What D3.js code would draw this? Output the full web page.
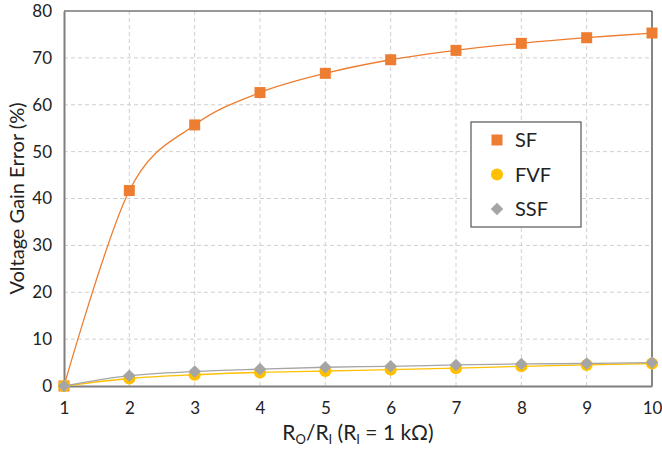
<!DOCTYPE html>
<html>
<head>
<meta charset="utf-8">
<script src="https://cdn.jsdelivr.net/npm/d3@7"></script>
<style>
  body { margin: 0; background: #fff; }
  svg { font-family: Lato, "Open Sans", sans-serif; }
</style>
</head>
<body>
<svg id="chart" width="662" height="455"></svg>
<script>
// ratio Ro/Ri
const ratios = [1, 2, 3, 4, 5, 6, 7, 8, 9, 10];
const sfValues  = [0, 41.7, 55.7, 62.6, 66.7, 69.6, 71.6, 73.1, 74.3, 75.3];
const fvfValues = [0, 1.6, 2.4, 2.9, 3.2, 3.5, 3.8, 4.2, 4.5, 4.8];
const ssfValues = [0, 2.2, 3.1, 3.6, 4.0, 4.2, 4.5, 4.7, 4.8, 5.0];
const yTicks = [0, 10, 20, 30, 40, 50, 60, 70, 80];
const seriesNames = ["SF", "FVF", "SSF"];

const margin = {top: 11, right: 10, bottom: 70, left: 64},
      width = 652 - margin.left,
      height = 386 - margin.top;

const svg = d3.select("#chart");
const g = svg.append("g").attr("transform", `translate(${margin.left},${margin.top})`);

const x = d3.scaleLinear().domain([1, 10]).range([0, width]);
const y = d3.scaleLinear().domain([0, 80]).range([height, 0]);

// grid
g.append("g").selectAll("line").data(yTicks.filter(d => d > 0 && d < 80)).enter().append("line")
    .attr("x1", 0).attr("x2", width)
    .attr("y1", d => y(d)).attr("y2", d => y(d))
    .attr("stroke", "#d0d0d0").attr("stroke-dasharray", "4,3");
g.append("g").selectAll("line").data(ratios.filter(d => d > 1 && d < 10)).enter().append("line")
    .attr("x1", d => x(d)).attr("x2", d => x(d))
    .attr("y1", 0).attr("y2", height)
    .attr("stroke", "#d0d0d0").attr("stroke-dasharray", "4,3");

// frame
g.append("line").attr("x1", 0).attr("x2", width).attr("y1", 0).attr("y2", 0).attr("stroke", "#333").attr("stroke-width", 1.2);
g.append("line").attr("x1", width).attr("x2", width).attr("y1", 0).attr("y2", height).attr("stroke", "#333").attr("stroke-width", 1.2);

// axes
const xAxis = g.append("g").attr("transform", `translate(0,${height})`)
    .call(d3.axisBottom(x).tickValues(ratios).tickFormat(d3.format("d")).tickSize(0).tickPadding(16));
const yAxis = g.append("g")
    .call(d3.axisLeft(y).tickValues(yTicks).tickSize(0).tickPadding(12));
[xAxis, yAxis].forEach(a => {
    a.select(".domain").attr("stroke", "#7f7f7f").attr("stroke-width", 2);
    a.selectAll("text").attr("font-size", 17).attr("fill", "#222").attr("font-family", "Lato, sans-serif");
});

// lines
const rows = [
    {name: "SF", values: sfValues, color: "#ED7D31"},
    {name: "FVF", values: fvfValues, color: "#FFC000"},
    {name: "SSF", values: ssfValues, color: "#A5A5A5"}
];
const line = d3.line().x((d, i) => x(ratios[i])).y(d => y(d)).curve(d3.curveCardinal.tension(0));

rows.forEach(r => {
    g.append("path").datum(r.values).attr("d", line)
        .attr("fill", "none").attr("stroke", r.color).attr("stroke-width", 1.3);
});

const symbols = {SF: d3.symbolSquare, FVF: d3.symbolCircle, SSF: d3.symbolDiamond2};
const sizes = {SF: 121, FVF: 115, SSF: 100};

// markers
rows.forEach(r => {
    g.append("g").selectAll("path").data(r.values).enter().append("path")
        .attr("transform", (d, i) => `translate(${x(ratios[i])},${y(d)})`)
        .attr("d", d3.symbol().type(symbols[r.name]).size(sizes[r.name]))
        .attr("fill", r.color);
});

// legend
const legend = svg.append("g").attr("transform", "translate(471,122)");
legend.append("rect").attr("width", 110).attr("height", 105)
    .attr("fill", "#fff").attr("stroke", "#555").attr("stroke-width", 1.2);
rows.forEach((r, i) => {
    const ly = 18 + i * 34.5;
    legend.append("path").attr("transform", `translate(26,${ly})`)
        .attr("d", d3.symbol().type(symbols[r.name]).size(sizes[r.name]))
        .attr("fill", r.color);
    legend.append("text").attr("x", 44).attr("y", ly).attr("dy", "0.36em")
        .attr("font-size", 20).attr("fill", "#222").text(seriesNames[i]);
});

// axis titles
const xt = svg.append("text").attr("x", margin.left + width / 2).attr("y", 440)
    .attr("text-anchor", "middle").attr("font-size", 21).attr("fill", "#222");
xt.append("tspan").text("R");
xt.append("tspan").attr("font-size", 13).attr("dy", 4).text("O");
xt.append("tspan").attr("dy", -4).text("/R");
xt.append("tspan").attr("font-size", 13).attr("dy", 4).text("I");
xt.append("tspan").attr("dy", -4).text(" (R");
xt.append("tspan").attr("font-size", 13).attr("dy", 4).text("I");
xt.append("tspan").attr("dy", -4).text(" = 1 kΩ)");

svg.append("text").attr("transform", `translate(24,${margin.top + height / 2}) rotate(-90)`)
    .attr("text-anchor", "middle").attr("font-size", 20).attr("fill", "#222")
    .text("Voltage Gain Error (%)");
</script>
</body>
</html>
